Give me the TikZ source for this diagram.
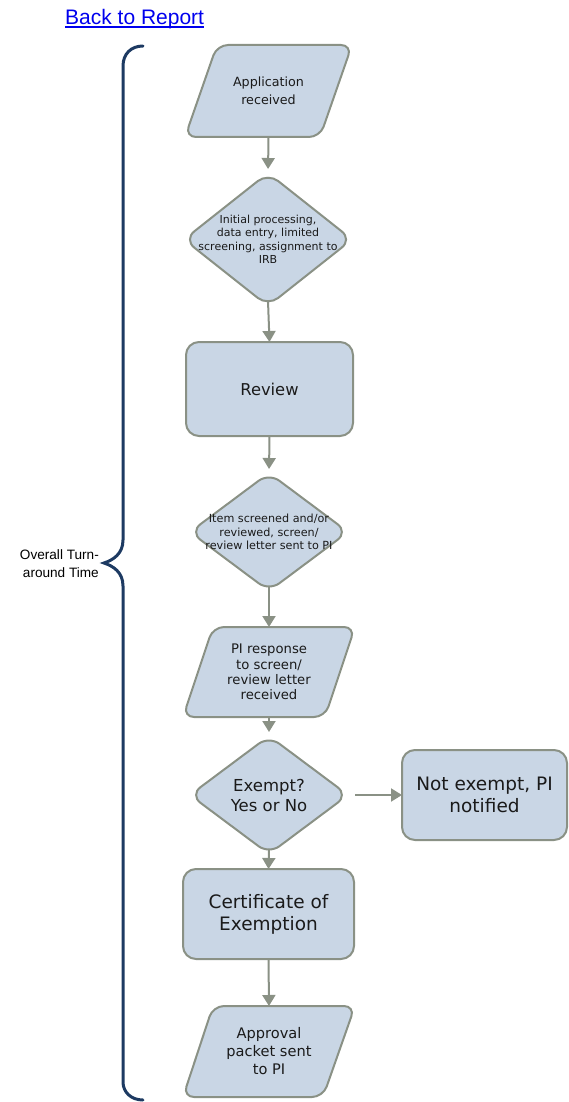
\documentclass[tikz,border=0pt]{standalone}
\usepackage{fontspec}
\setmainfont{DejaVu Sans}
\newfontfamily\arialf{Liberation Sans}
\usetikzlibrary{arrows.meta,backgrounds}
\definecolor{shfill}{HTML}{C9D6E5}
\definecolor{shline}{HTML}{8A9185}
\definecolor{navy}{HTML}{1D3A62}
\definecolor{linkblue}{HTML}{0000EE}
\definecolor{txt}{HTML}{1A1A1A}
\tikzset{
  holder/.style={inner sep=0pt, outer sep=0pt, align=center, text=txt},
  shp/.style={draw=shline, fill=shfill, line width=2pt, rounded corners=11pt},
  arr/.style={draw=shline, line width=2pt, -{Triangle[width=13pt,length=11pt]}},
  brace/.style={draw=navy, line width=3pt, line cap=round},
}
\newcommand{\fsz}[2]{\fontsize{#1}{#2}\selectfont}
\begin{document}
\begin{tikzpicture}[x=1pt,y=-1pt]
\useasboundingbox (0,0) rectangle (569,1102);

% text holders (named nodes)
\node[holder, minimum width=167pt, minimum height=92pt, font=\fsz{12.7}{18}] (app) at (268.5,91) {Application\\received};
\node[holder, minimum width=168pt, minimum height=133pt, font=\fsz{11}{13.5}] (d1) at (268,239.5) {Initial processing,\\data entry, limited\\screening, assignment to\\IRB};
\node[holder, minimum width=167pt, minimum height=94pt, font=\fsz{16.3}{20}] (rev) at (269.5,389) {Review};
\node[holder, minimum width=158pt, minimum height=118pt, font=\fsz{11.2}{13.5}] (d2) at (269,532) {Item screened and/or\\reviewed, screen/\\review letter sent to PI};
\node[holder, minimum width=172pt, minimum height=90pt, font=\fsz{13.2}{15.3}] (pir) at (269,672) {PI response\\to screen/\\review letter\\received};
\node[holder, minimum width=158pt, minimum height=118pt, font=\fsz{16.5}{20}] (d3) at (269,795) {Exempt?\\Yes or No};
\node[holder, minimum width=165pt, minimum height=90pt, font=\fsz{18.5}{22}] (noex) at (484.5,795) {Not exempt, PI\\notified};
\node[holder, minimum width=171pt, minimum height=90pt, font=\fsz{18.5}{22}] (cert) at (268.5,914) {Certificate of\\Exemption};
\node[holder, minimum width=172pt, minimum height=91pt, font=\fsz{14.6}{18}] (appr) at (269,1051.5) {Approval\\packet sent\\to PI};

\begin{pgfonlayer}{background}
  \draw[shp] ([xshift=32pt]app.north west) -- (app.north east) -- ([xshift=-32pt]app.south east) -- (app.south west) -- cycle;
  \draw[shp, rounded corners=13pt] (d1.north) -- (d1.east) -- (d1.south) -- (d1.west) -- cycle;
  \draw[shp, rounded corners=13pt] (rev.north west) rectangle (rev.south east);
  \draw[shp, rounded corners=13pt] (d2.north) -- (d2.east) -- (d2.south) -- (d2.west) -- cycle;
  \draw[shp] ([xshift=30pt]pir.north west) -- (pir.north east) -- ([xshift=-30pt]pir.south east) -- (pir.south west) -- cycle;
  \draw[shp, rounded corners=13pt] (d3.north) -- (d3.east) -- (d3.south) -- (d3.west) -- cycle;
  \draw[shp, rounded corners=13pt] (noex.north west) rectangle (noex.south east);
  \draw[shp, rounded corners=13pt] (cert.north west) rectangle (cert.south east);
  \draw[shp] ([xshift=30pt]appr.north west) -- (appr.north east) -- ([xshift=-32pt]appr.south east) -- (appr.south west) -- cycle;
\end{pgfonlayer}

% connectors
\draw[arr, shorten >=4pt] (app.south) -- (d1.north);
\draw[arr] ([yshift=5pt]d1.south) -- (rev.north);
\draw[arr, shorten >=4pt] (rev.south) -- (d2.north);
\draw[arr] ([yshift=5pt]d2.south) -- (pir.north);
\draw[arr, shorten >=4pt] (pir.south) -- (d3.north);
\draw[arr, shorten <=7pt] (d3.east) -- (noex.west);
\draw[arr] ([yshift=5pt]d3.south) -- (cert.north);
\draw[arr] (cert.south) -- (appr.north);

% brace
\draw[brace] (143,46) .. controls (131,46) and (123,54) .. (123,66) -- (123,540)
  .. controls (123,554) and (113,560) .. (104,563)
  .. controls (113,566) and (123,572) .. (123,586)
  -- (123,1082) .. controls (123,1092) and (131,1100) .. (143,1100);

\node[anchor=east, align=right, inner sep=0pt, font=\arialf\fontsize{13.6}{18}\selectfont] (lab) at (99,564) {Overall Turn-\\around Time};

\node[anchor=base west, inner sep=0pt, text=linkblue, font=\arialf\fontsize{21}{24}\selectfont] (link) at (65,25) {Back to Report};
\draw[linkblue, line width=1.4pt] ([yshift=-2.2pt]link.base west) -- ([yshift=-2.2pt]link.base east);
\end{tikzpicture}
\end{document}
